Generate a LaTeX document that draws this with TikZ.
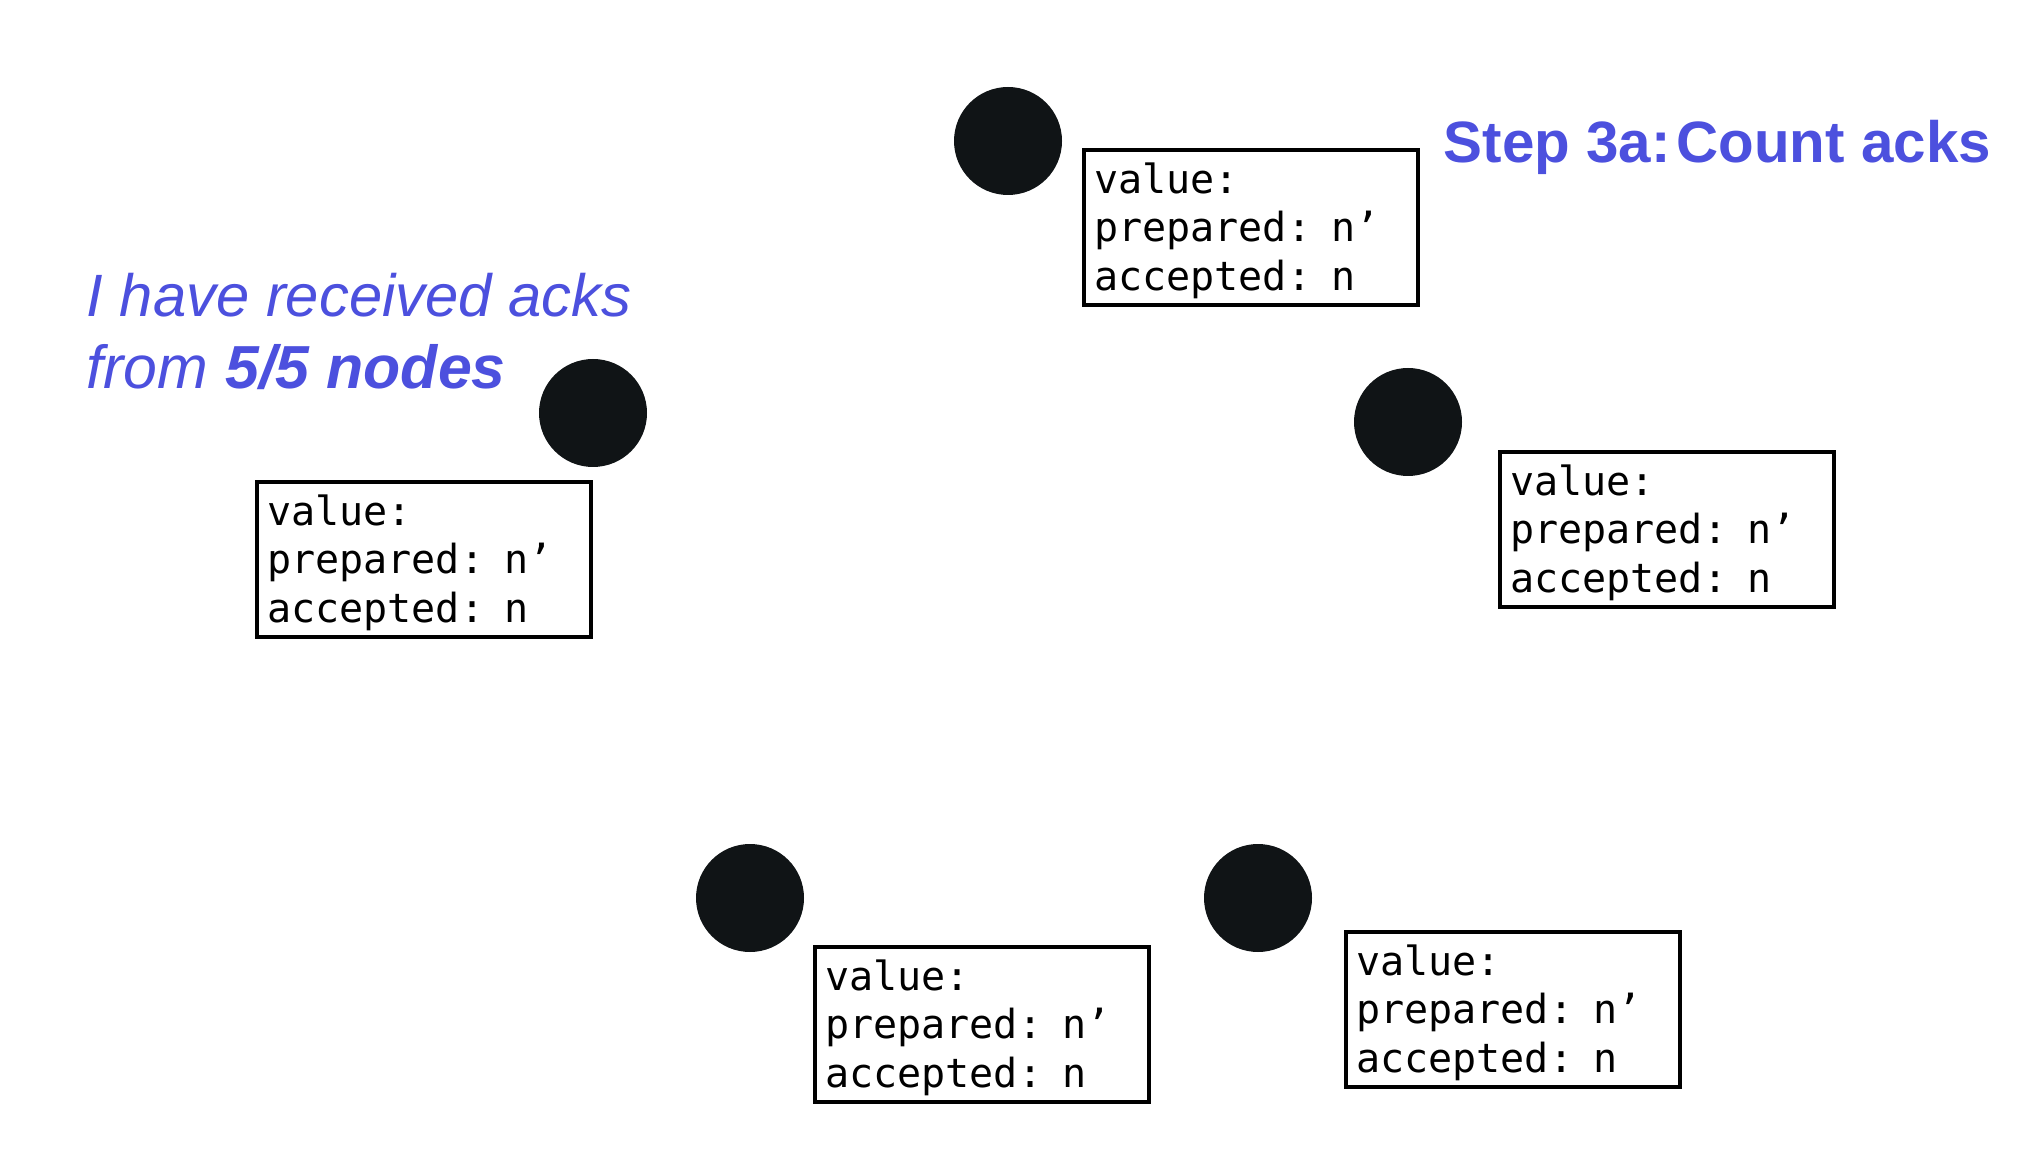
\documentclass[tikz,border=0pt]{standalone}
\usepackage{fontspec}
\setsansfont{Liberation Sans}
\setmonofont{DejaVu Sans Mono}
\usepackage{tikz}
\usetikzlibrary{positioning}
\definecolor{ackblue}{RGB}{76,80,222}
\definecolor{dotblack}{RGB}{16,20,22}
\tikzset{
  acceptor/.style={circle, fill=dotblack, minimum size=1.08cm, inner sep=0pt},
  statebox/.style={draw=black, line width=1.2pt, anchor=north west,
    text width=3.14cm, inner xsep=0.1cm, inner ysep=0pt,
    minimum height=1.55cm, align=left,
    font=\fontsize{11.4}{13.8}\selectfont\ttfamily},
  bluetext/.style={text=ackblue, anchor=base west, inner sep=0pt}
}
\newcommand{\statetext}{\rule{0pt}{10.4pt}value:\\prepared: n’\\accepted: n}

\begin{document}
\begin{tikzpicture}
\useasboundingbox (0,0) rectangle (20.44,-11.64);
\node [acceptor] (acc1) at (10.08,-1.41) {};
\node [acceptor] (acc2) at (14.08,-4.22) {};
\node [acceptor] (acc3) at (12.58,-8.98) {};
\node [acceptor] (acc4) at (7.50,-8.98) {};
\node [acceptor] (acc5) at (5.93,-4.13) {};
\node [statebox] (state1) at (10.82,-1.48) {\statetext};
\node [statebox] (state2) at (14.98,-4.50) {\statetext};
\node [statebox] (state3) at (13.44,-9.30) {\statetext};
\node [statebox] (state4) at (8.13,-9.45) {\statetext};
\node [statebox] (state5) at (2.55,-4.80) {\statetext};
\node [bluetext, font=\sffamily\bfseries\fontsize{16.6}{20}\selectfont] (steptitle) at (14.43,-1.63) {Step 3a:\hspace{0.1em}Count acks};
\node [bluetext, font=\sffamily\itshape\fontsize{17}{20}\selectfont] (ackline1) at (0.86,-3.17) {I have received acks};
\node [bluetext, font=\sffamily\itshape\fontsize{17.3}{20}\selectfont] (ackline2) at (0.86,-3.89) {from \textbf{5/5 nodes}};
\end{tikzpicture}
\end{document}
